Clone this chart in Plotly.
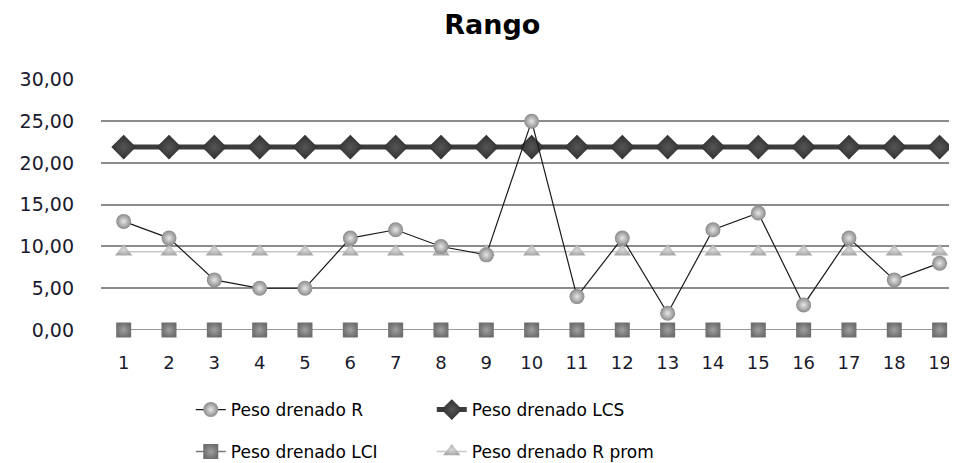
import plotly.graph_objects as go

x_vals = list(range(1, 20))
tick_labels = [str(i) for i in x_vals]
peso_r = [13, 11, 6, 5, 5, 11, 12, 10, 9, 25, 4, 11, 2, 12, 14, 3, 11, 6, 8]
peso_lcs = [21.9] * 19
peso_lci = [0.0] * 19
peso_r_prom = [9.37] * 19
y_ticks = [0, 5, 10, 15, 20, 25, 30]
y_tick_text = ["0,00", "5,00", "10,00", "15,00", "20,00", "25,00", "30,00"]

fig = go.Figure()

fig.add_trace(go.Scatter(
    x=x_vals, y=peso_r_prom, name="Peso drenado R prom", mode="lines+markers",
    line=dict(color="#c8c8c8", width=1.5),
    marker=dict(symbol="triangle-up", size=15, color="#a8a8a8",
                gradient=dict(type="radial", color="#d8d8d8")),
    cliponaxis=False, legend="legend2"))

fig.add_trace(go.Scatter(
    x=x_vals, y=peso_lci, name="Peso drenado LCI", mode="lines+markers",
    line=dict(color="#7a7a7a", width=1.5),
    marker=dict(symbol="square", size=15, color="#6e6e6e",
                gradient=dict(type="radial", color="#a0a0a0")),
    cliponaxis=False, legend="legend2"))

fig.add_trace(go.Scatter(
    x=x_vals, y=peso_lcs, name="Peso drenado LCS", mode="lines+markers",
    line=dict(color="#3c3c3c", width=5),
    marker=dict(symbol="diamond", size=19, color="#303030",
                gradient=dict(type="radial", color="#555555")),
    cliponaxis=False, legend="legend"))

fig.add_trace(go.Scatter(
    x=x_vals, y=peso_r, name="Peso drenado R", mode="lines+markers",
    line=dict(color="#1a1a1a", width=1.2),
    marker=dict(symbol="circle", size=15, color="#8a8a8a",
                gradient=dict(type="radial", color="#e6e6e6")),
    cliponaxis=False, legend="legend"))

legend_common = dict(orientation="h", xref="container", yref="container",
                     x=0.191, xanchor="left", yanchor="middle",
                     entrywidth=196, entrywidthmode="pixels", traceorder="reversed",
                     font=dict(family="DejaVu Sans", size=17, color="#000000"),
                     bgcolor="rgba(0,0,0,0)")

fig.update_layout(
    width=957, height=463,
    margin=dict(l=93, r=0, t=71, b=141, autoexpand=False),
    paper_bgcolor="white", plot_bgcolor="white",
    title=dict(text="<b>Rango</b>", x=0.506, xanchor="center", y=0.984, yanchor="top",
               pad=dict(t=0, b=0, l=0, r=0),
               font=dict(family="DejaVu Sans", size=27, color="#000000")),
    xaxis=dict(range=[0.5, 19.56], tickvals=x_vals, ticktext=tick_labels,
               showgrid=False, zeroline=False, showline=False, automargin=False,
               ticklabelstandoff=20,
               tickfont=dict(family="DejaVu Sans", size=18, color="#1a1a2e")),
    yaxis=dict(range=[0, 30.05], tickvals=y_ticks, ticktext=y_tick_text,
               showgrid=True, gridcolor="#8c8c8c", gridwidth=1.5,
               zeroline=False, showline=False, automargin=False,
               ticklabelstandoff=26,
               tickfont=dict(family="DejaVu Sans", size=19, color="#1a1a2e")),
    legend=dict(y=1 - 402 / 463, **legend_common),
    legend2=dict(y=1 - 444 / 463, **legend_common),
    showlegend=True,
)

fig.write_html("out.html")
